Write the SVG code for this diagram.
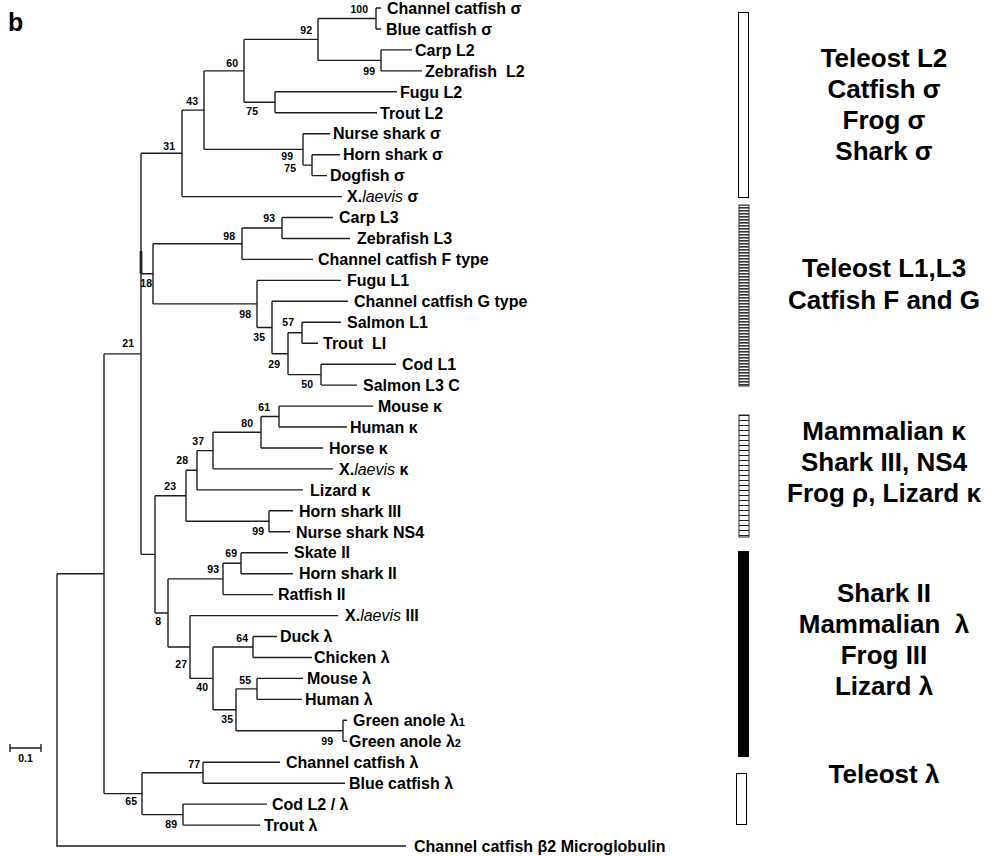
<svg xmlns="http://www.w3.org/2000/svg" width="991" height="856" viewBox="0 0 991 856">
<style>
.br{fill:none;stroke:#1e1e1e;stroke-width:1.4}
.lf{font-family:"Liberation Sans",Arial,sans-serif;font-weight:bold;font-size:16px;fill:#000}
.it{font-style:italic;font-weight:normal}
.bs{font-family:"Liberation Sans",Arial,sans-serif;font-weight:bold;font-size:10.5px;fill:#000;text-anchor:end}
.cl{font-family:"Liberation Sans",Arial,sans-serif;font-weight:bold;font-size:26px;fill:#000;text-anchor:middle}
.sub{font-size:11px}
</style>
<defs>
<pattern id="dense" width="4" height="3" patternUnits="userSpaceOnUse"><rect width="4" height="3" fill="#fff"/><rect width="4" height="1.6" fill="#333"/></pattern>
<pattern id="sparse" width="4" height="5" patternUnits="userSpaceOnUse"><rect width="4" height="5" fill="#fff"/><rect width="4" height="1" fill="#222"/></pattern>
</defs>
<rect width="991" height="856" fill="#fff"/>
<text x="8" y="31" font-family="Liberation Sans,Arial,sans-serif" font-weight="bold" font-size="25">b</text>

<g id="connectors" class="br">
<path d="M57,573.8 V846 H406"/>
<path d="M57,573.8 H104 M104,353.9 V793.6"/>
<path d="M104,353.9 H141 M141,153.3 V554.4"/>
<path d="M141,251 V273.8" stroke-width="2.8"/>
<path d="M141,153.3 H182 M182,110.1 V196.6 M182,196.6 H342"/>
<path d="M182,110.1 H204 M204,70.9 V149.4"/>
<path d="M204,70.9 H244 M244,39.4 V102.3"/>
<path d="M244,39.4 H318 M318,18.5 V60.4"/>
<path d="M318,18.5 H376 M376,8 V29 M376,8 H381 M376,29 H381"/>
<path d="M318,60.4 H381 M381,49.9 V70.9 M381,49.9 H412 M381,70.9 H422"/>
<path d="M244,102.3 H275 M275,91.8 V112.8 M275,91.8 H397 M275,112.8 H377"/>
<path d="M204,149.4 H303 M303,133.7 V165.1 M303,133.7 H330"/>
<path d="M303,165.1 H312 M312,154.7 V175.6 M312,154.7 H340 M312,175.6 H327"/>
<path d="M141,273.8 H153 M153,243.7 V303.9"/>
<path d="M153,243.7 H242 M242,228 V259.4 M242,259.4 H313"/>
<path d="M242,228 H282 M282,217.5 V238.5 M282,217.5 H333 M282,238.5 H350"/>
<path d="M153,303.9 H257 M257,280.4 V327.5 M257,280.4 H341"/>
<path d="M257,327.5 H272 M272,301.3 V353.7 M272,301.3 H348"/>
<path d="M272,353.7 H288 M288,332.7 V374.6"/>
<path d="M288,332.7 H302 M302,322.3 V343.2 M302,322.3 H341 M302,343.2 H318"/>
<path d="M288,374.6 H321 M321,364.2 V385.1 M321,364.2 H396 M321,385.1 H357"/>
<path d="M141,554.4 H155 M155,495.8 V613"/>
<path d="M155,495.8 H186 M186,470.2 V521.3"/>
<path d="M186,470.2 H197 M197,450.6 V489.9 M197,489.9 H303"/>
<path d="M197,450.6 H213 M213,432.2 V468.9 M213,468.9 H333"/>
<path d="M213,432.2 H261 M261,416.5 V448 M261,448 H323"/>
<path d="M261,416.5 H279 M279,406.1 V427 M279,406.1 H373 M279,427 H347"/>
<path d="M186,521.3 H269 M269,510.8 V531.8 M269,510.8 H293 M269,531.8 H290"/>
<path d="M155,613 H168 M168,578.9 V647"/>
<path d="M168,578.9 H223 M223,563.2 V594.6 M223,594.6 H273"/>
<path d="M223,563.2 H241 M241,552.7 V573.7 M241,552.7 H288 M241,573.7 H293"/>
<path d="M168,647 H190 M190,615.6 V678.4 M190,615.6 H338"/>
<path d="M190,678.4 H213 M213,647 V709.8"/>
<path d="M213,647 H253 M253,636.5 V657.5 M253,636.5 H277 M253,657.5 H312"/>
<path d="M213,709.8 H236 M236,688.9 V730.8"/>
<path d="M236,688.9 H257 M257,678.4 V699.4 M257,678.4 H303 M257,699.4 H302"/>
<path d="M236,730.8 H343 M343,720.3 V741.3 M343,720.3 H347 M343,741.3 H347"/>
<path d="M104,793.6 H142 M142,772.7 V814.6"/>
<path d="M142,772.7 H203 M203,762.2 V783.2 M203,762.2 H280 M203,783.2 H345"/>
<path d="M142,814.6 H183 M183,804.1 V825.1 M183,804.1 H267 M183,825.1 H260"/>
</g>

<g id="scale-bar">
<path class="br" d="M10,748 H41 M10,744 V752 M41,744 V752"/>
<text x="25.5" y="762" class="bs" style="text-anchor:middle">0.1</text>
</g>

<g id="leaves" class="lf">
<g id="leaf-channel-catfish-sigma"><text x="387" y="13.7">Channel catfish σ</text></g>
<g id="leaf-blue-catfish-sigma"><text x="386" y="34.7">Blue catfish σ</text></g>
<g id="leaf-carp-l2"><text x="415" y="55.6">Carp L2</text></g>
<g id="leaf-zebrafish-l2"><text x="425" y="76.6" xml:space="preserve">Zebrafish  L2</text></g>
<g id="leaf-fugu-l2"><text x="400" y="97.5">Fugu L2</text></g>
<g id="leaf-trout-l2"><text x="380" y="118.5">Trout L2</text></g>
<g id="leaf-nurse-shark-sigma"><text x="333" y="139.4">Nurse shark σ</text></g>
<g id="leaf-horn-shark-sigma"><text x="343" y="160.4">Horn shark σ</text></g>
<g id="leaf-dogfish-sigma"><text x="330" y="181.3">Dogfish σ</text></g>
<g id="leaf-xlaevis-sigma"><text x="347" y="202.3">X.<tspan class="it">laevis</tspan> σ</text></g>
<g id="leaf-carp-l3"><text x="339" y="223.2">Carp L3</text></g>
<g id="leaf-zebrafish-l3"><text x="357" y="244.2">Zebrafish L3</text></g>
<g id="leaf-cc-f"><text x="318" y="265.1">Channel catfish F type</text></g>
<g id="leaf-fugu-l1"><text x="347" y="286.1">Fugu L1</text></g>
<g id="leaf-cc-g"><text x="354" y="307">Channel catfish G type</text></g>
<g id="leaf-salmon-l1"><text x="347" y="328">Salmon L1</text></g>
<g id="leaf-trout-l1"><text x="323" y="348.9" xml:space="preserve">Trout  LI</text></g>
<g id="leaf-cod-l1"><text x="402" y="369.9">Cod L1</text></g>
<g id="leaf-salmon-l3c"><text x="363" y="390.8">Salmon L3 C</text></g>
<g id="leaf-mouse-kappa"><text x="378" y="411.8">Mouse κ</text></g>
<g id="leaf-human-kappa"><text x="350" y="432.7">Human κ</text></g>
<g id="leaf-horse-kappa"><text x="329" y="453.7">Horse κ</text></g>
<g id="leaf-xlaevis-kappa"><text x="339" y="474.6">X.<tspan class="it">laevis</tspan> κ</text></g>
<g id="leaf-lizard-kappa"><text x="310" y="495.6">Lizard κ</text></g>
<g id="leaf-horn-shark-iii"><text x="299" y="516.5">Horn shark III</text></g>
<g id="leaf-nurse-shark-ns4"><text x="296" y="537.5">Nurse shark NS4</text></g>
<g id="leaf-skate-ii"><text x="294" y="558.4">Skate II</text></g>
<g id="leaf-horn-shark-ii"><text x="299" y="579.4">Horn shark II</text></g>
<g id="leaf-ratfish-ii"><text x="278" y="600.3">Ratfish II</text></g>
<g id="leaf-xlaevis-iii"><text x="345" y="621.3">X.<tspan class="it">laevis</tspan> III</text></g>
<g id="leaf-duck-lambda"><text x="280" y="642.2">Duck λ</text></g>
<g id="leaf-chicken-lambda"><text x="314" y="663.2">Chicken λ</text></g>
<g id="leaf-mouse-lambda"><text x="307" y="684.1">Mouse λ</text></g>
<g id="leaf-human-lambda"><text x="305" y="705.1">Human λ</text></g>
<g id="leaf-green-anole-1"><text x="353" y="726">Green anole λ<tspan class="sub">1</tspan></text></g>
<g id="leaf-green-anole-2"><text x="349" y="747">Green anole λ<tspan class="sub">2</tspan></text></g>
<g id="leaf-cc-lambda"><text x="286" y="767.9">Channel catfish λ</text></g>
<g id="leaf-blue-catfish-lambda"><text x="349" y="788.9">Blue catfish λ</text></g>
<g id="leaf-cod-l2"><text x="272" y="809.8">Cod L2 / λ</text></g>
<g id="leaf-trout-lambda"><text x="264" y="830.8">Trout λ</text></g>
<g id="leaf-b2m"><text x="414" y="851.7">Channel catfish β2 Microglobulin</text></g>
</g>

<g id="bootstrap" class="bs">
<g id="n100"><text x="368" y="13">100</text></g>
<g id="n92"><text x="312" y="34">92</text></g>
<g id="n99a"><text x="375" y="75">99</text></g>
<g id="n60"><text x="238" y="67">60</text></g>
<g id="n75a"><text x="258" y="115">75</text></g>
<g id="n43"><text x="198" y="105">43</text></g>
<g id="n31"><text x="175" y="150">31</text></g>
<g id="n99b"><text x="293" y="160">99</text></g>
<g id="n75b"><text x="296" y="172">75</text></g>
<g id="n93a"><text x="275" y="222">93</text></g>
<g id="n98a"><text x="235" y="240">98</text></g>
<g id="n18"><text x="152" y="287">18</text></g>
<g id="n98b"><text x="251" y="318">98</text></g>
<g id="n35a"><text x="265" y="341">35</text></g>
<g id="n29"><text x="280" y="368">29</text></g>
<g id="n57"><text x="294" y="326">57</text></g>
<g id="n50"><text x="313" y="388">50</text></g>
<g id="n21"><text x="134" y="347">21</text></g>
<g id="n61"><text x="270" y="411">61</text></g>
<g id="n80"><text x="253" y="427">80</text></g>
<g id="n37"><text x="204" y="445">37</text></g>
<g id="n28"><text x="188" y="464">28</text></g>
<g id="n23"><text x="176" y="490">23</text></g>
<g id="n99c"><text x="264" y="535">99</text></g>
<g id="n69"><text x="237" y="557">69</text></g>
<g id="n93b"><text x="219" y="573">93</text></g>
<g id="n8"><text x="161" y="625">8</text></g>
<g id="n27"><text x="187" y="668">27</text></g>
<g id="n64"><text x="248" y="642">64</text></g>
<g id="n40"><text x="208" y="691">40</text></g>
<g id="n55"><text x="251" y="684">55</text></g>
<g id="n35b"><text x="233" y="723">35</text></g>
<g id="n99d"><text x="333" y="745">99</text></g>
<g id="n77"><text x="200" y="768">77</text></g>
<g id="n65"><text x="137" y="805">65</text></g>
<g id="n89"><text x="177" y="828">89</text></g>
</g>

<g id="clade-sigma">
<rect x="738.5" y="12.5" width="10" height="185" fill="#fff" stroke="#000" stroke-width="1"/>
<text class="cl" x="884" y="67">Teleost L2</text>
<text class="cl" x="884" y="98">Catfish σ</text>
<text class="cl" x="884" y="129">Frog σ</text>
<text class="cl" x="884" y="160">Shark σ</text>
</g>
<g id="clade-l1l3">
<rect x="739" y="205" width="10" height="181" fill="url(#dense)" stroke="#333" stroke-width="1"/>
<text class="cl" x="884" y="277">Teleost L1,L3</text>
<text class="cl" x="884" y="309">Catfish F and G</text>
</g>
<g id="clade-kappa">
<rect x="739" y="415" width="10" height="122" fill="url(#sparse)" stroke="#222" stroke-width="1"/>
<text class="cl" x="884" y="440">Mammalian κ</text>
<text class="cl" x="884" y="471">Shark III, NS4</text>
<text class="cl" x="884" y="502">Frog ρ, Lizard κ</text>
</g>
<g id="clade-lambda">
<rect x="738" y="551" width="11" height="206" fill="#000"/>
<text class="cl" x="884" y="602">Shark II</text>
<text class="cl" x="884" y="633" xml:space="preserve">Mammalian  λ</text>
<text class="cl" x="884" y="664">Frog III</text>
<text class="cl" x="884" y="695">Lizard λ</text>
</g>
<g id="clade-teleost-lambda">
<rect x="736.5" y="773.5" width="10" height="51" fill="#fff" stroke="#000" stroke-width="1"/>
<text class="cl" x="884" y="783">Teleost λ</text>
</g>
</svg>
